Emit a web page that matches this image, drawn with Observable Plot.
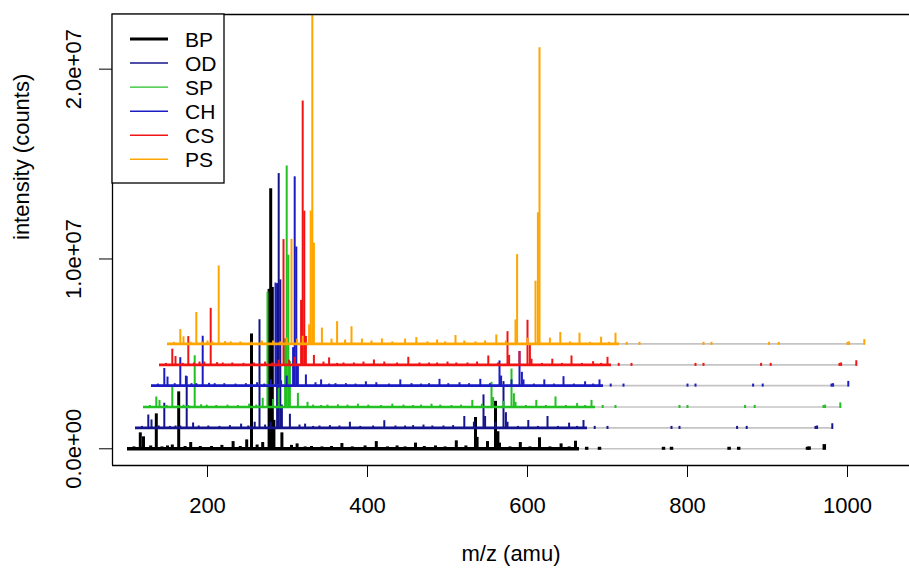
<!DOCTYPE html>
<html><head><meta charset="utf-8">
<script src="https://cdn.jsdelivr.net/npm/d3@7"></script>
<script src="https://cdn.jsdelivr.net/npm/@observablehq/plot@0.6"></script>
<style>
body{margin:0;background:#fff;}
svg{display:block;}
</style>
</head><body><div id="chart"></div>
<script>
// ---- data (intensities in millions of counts) ----
const seriesNames = ["BP","OD","SP","CH","CS","PS"];
const seriesColors = ["#000000","#14148c","#22c022","#1c1cc4","#f01414","#ffa500"];
const xShift = [0,10,20,30,40,50];            // amu offset of each trace
const yOffset = [0,1.1,2.2,3.33,4.42,5.53];   // vertical offset of each trace (millions)
const mz = [108,116,120,129,136,143,150,156,164,172,179,191,205,218,232,241,249,255,262,269,277,279,281,283,293,305,312,322,330,343,355,368,381,397,411,425,437,447,460,471,485,497,511,523,535,537,550,560,563,565,578,591,603,615,628,642,652,660];
const BP = [0.1,0.84,0.63,0.15,1.84,0.1,0.15,0.2,3.0,0.12,0.33,0.12,0.12,0.18,0.38,0.12,0.47,6.05,0.2,0.33,8.4,13.7,8.5,1.5,0.84,0.18,0.26,0.1,0.12,0.1,0.12,0.28,0.1,0.15,0.38,0.1,0.15,0.1,0.3,0.12,0.15,0.1,0.42,0.15,1.65,0.6,0.38,2.5,0.9,0.3,0.1,0.33,0.1,0.58,0.1,0.26,0.1,0.4];
const OD = [0.08,0.68,0.42,0.1,1.3,0.08,0.1,0.1,2.7,0.26,0.1,0.1,0.08,0.12,0.2,0.1,0.3,5.7,0.15,0.3,7.6,13.4,7.8,1.2,0.72,0.15,0.2,0.08,0.1,0.12,0.1,0.3,0.08,0.1,0.38,0.1,0.1,0.12,0.15,0.1,0.1,0.12,0.6,0.3,1.74,0.6,0.3,2.44,0.8,0.3,0.08,0.39,0.08,0.6,0.08,0.25,0.08,0.39];
const SP = [0.08,0.53,0.35,0.08,1.05,0.08,0.1,0.08,2.7,0.12,0.1,0.08,0.1,0.08,0.15,0.1,0.46,6.05,0.4,1.0,3.6,12.7,8.0,2.4,0.72,0.25,0.1,0.08,0.1,0.12,0.1,0.15,0.1,0.08,0.15,0.1,0.08,0.1,0.15,0.1,0.08,0.1,0.35,0.15,1.3,0.5,0.3,2.0,0.7,0.25,0.08,0.35,0.08,0.53,0.08,0.18,0.08,0.35];
const CH = [0.08,0.9,0.45,0.1,1.47,0.5,0.1,0.1,2.6,0.12,0.1,0.1,0.08,0.1,0.15,0.08,0.3,5.4,0.25,0.5,2.0,11.0,7.3,1.1,0.56,0.15,0.3,0.08,0.1,0.1,0.08,0.2,0.15,0.08,0.3,0.1,0.08,0.1,0.33,0.1,0.15,0.1,0.33,0.1,1.3,0.5,0.3,1.8,0.7,0.3,0.08,0.3,0.08,0.47,0.08,0.2,0.08,0.3];
const CS = [0.08,0.83,0.44,0.08,1.49,0.1,0.15,0.15,2.98,0.12,0.1,0.1,0.08,0.1,0.15,0.1,0.25,6.6,0.25,0.4,3.4,13.9,8.1,1.5,0.5,0.15,0.37,0.08,0.1,0.1,0.15,0.26,0.15,0.1,0.4,0.1,0.1,0.1,0.15,0.1,0.1,0.15,0.47,0.1,1.75,0.5,0.7,2.35,1.05,0.3,0.08,0.3,0.08,0.47,0.08,0.17,0.08,0.4];
const PS = [0.08,0.75,0.37,0.08,1.65,0.1,0.15,0.1,4.1,0.12,0.1,0.1,0.08,0.15,0.15,0.1,0.3,5.5,0.25,0.4,1.0,7.0,17.6,5.3,0.83,0.25,1.17,0.2,0.9,0.25,0.15,0.26,0.1,0.25,0.33,0.1,0.2,0.1,0.44,0.15,0.1,0.15,0.47,0.15,1.26,4.7,0.3,3.3,6.9,15.6,0.3,0.6,0.1,0.56,0.08,0.35,0.08,0.56];
const seriesValues = [BP, OD, SP, CH, CS, PS];
const tailMz = [674,690,770,780,852,864,950,952,971];
const tailHt = [0.08,0.08,0.08,0.08,0.08,0.08,0.08,0.1,0.22];
const specStart = 100, denseEnd = 665, specEnd = 971;
const xTicks = [200,400,600,800,1000];
const yTicks = [0,1e7,2e7];
const unit = 1e6;

// ---- layout ----
const W = 909, H = 570, mL = 112, mR = 0, mT = 14, mB = 105;
const xDom = [81.25, 1077.5];
const yDom = [-0.88e6, 22.88e6];
const FONT = "'Liberation Sans', Arial, Helvetica, sans-serif";

const fmtExp = d => {
  const [m, e] = d.toExponential(1).split("e");
  return `${m}e${e[0]}${e.slice(1).padStart(2, "0")}`;
};

const marks = [];
seriesNames.forEach((name, i) => {
  const col = seriesColors[i];
  const off = yOffset[i] * unit;
  const sh = xShift[i];
  marks.push(Plot.ruleY([{y: off, x1: specStart + sh, x2: specEnd + sh}],
    {y: "y", x1: "x1", x2: "x2", stroke: "#c4c4c4", strokeWidth: 1.6}));
  marks.push(Plot.ruleY([{y: off, x1: specStart + sh, x2: denseEnd + sh}],
    {y: "y", x1: "x1", x2: "x2", stroke: col, strokeWidth: i === 0 ? 3.5 : 2.6}));
  const pk = mz.map((m, j) => ({x: m + sh, y1: off, y2: off + seriesValues[i][j] * unit}));
  marks.push(Plot.ruleX(pk, {x: "x", y1: "y1", y2: "y2", stroke: col, strokeWidth: i === 0 ? 3 : 2, clip: true}));
  const tl = tailMz.map((m, j) => ({x: m + sh, y1: off - 0.08 * unit, y2: off + tailHt[j] * unit}));
  marks.push(Plot.ruleX(tl, {x: "x", y1: "y1", y2: "y2", stroke: col, strokeWidth: i === 0 ? 3.5 : 2}));
});

// frame (left, top, bottom)
marks.push(Plot.ruleX([xDom[0]], {stroke: "#000", strokeWidth: 1.3}));
marks.push(Plot.ruleY(yDom, {stroke: "#000", strokeWidth: 1.3}));
// axes
marks.push(Plot.axisX({ticks: xTicks, tickSize: 12, tickPadding: 20, tickFormat: d => String(d), label: null, fontSize: 22}));
marks.push(Plot.axisY({ticks: yTicks, tickSize: 13, tickFormat: () => "", label: null}));
marks.push(Plot.text(yTicks, {y: d => d, text: fmtExp, frameAnchor: "left", dx: -39, rotate: -90,
  textAnchor: "middle", lineAnchor: "middle", fontSize: 22}));
marks.push(Plot.text(["intensity (counts)"], {text: d => d, frameAnchor: "left", dx: -91, rotate: -90,
  lineAnchor: "middle", fontSize: 22}));
marks.push(Plot.text(["m/z (amu)"], {text: d => d, frameAnchor: "bottom", dy: 88, lineAnchor: "middle", fontSize: 22}));

const svg = Plot.plot({
  width: W, height: H,
  marginLeft: mL, marginRight: mR, marginTop: mT, marginBottom: mB,
  style: {fontFamily: FONT, fontSize: "22px", color: "#000", background: "#fff", overflow: "visible"},
  x: {type: "linear", domain: xDom, axis: null},
  y: {type: "linear", domain: yDom, axis: null},
  marks
});

// legend box
const g = d3.select(svg).append("g").attr("font-family", FONT).attr("text-anchor", "start");
g.append("rect").attr("x", 112).attr("y", 14).attr("width", 112).attr("height", 169)
  .attr("fill", "#fff").attr("stroke", "#000").attr("stroke-width", 1.3);
seriesNames.forEach((n, i) => {
  const y = 39 + i * 24.06;
  g.append("line").attr("x1", 130).attr("x2", 168).attr("y1", y).attr("y2", y)
    .attr("stroke", seriesColors[i]).attr("stroke-width", i === 0 ? 3 : 1.4);
  g.append("text").attr("x", 185).attr("y", y).attr("dy", "0.36em").attr("text-anchor", "start")
    .attr("font-size", 21).attr("fill", "#000").text(n);
});

document.getElementById("chart").appendChild(svg);
</script>
</body></html>
